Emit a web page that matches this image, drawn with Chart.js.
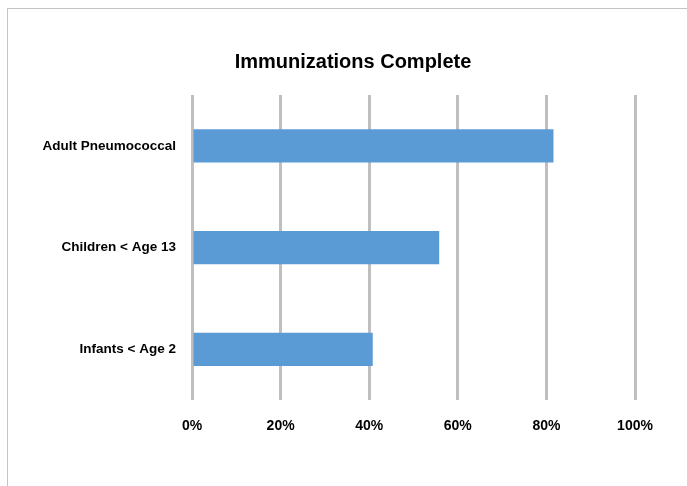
<!DOCTYPE html>
<html>
<head>
<meta charset="utf-8">
<script src="https://cdn.jsdelivr.net/npm/chart.js@4/dist/chart.umd.min.js"></script>
<style>
  html, body { margin: 0; padding: 0; background: #ffffff; overflow: hidden; }
  #wrap { position: relative; width: 687px; height: 486px; overflow: hidden; }
  #frame { position: absolute; left: 7px; top: 8px; width: 760px; height: 560px;
           border: 1.5px solid #c4c4c4; box-sizing: border-box; }
  #title { position: absolute; left: 0; top: 49px; width: 706px; text-align: center;
           font: bold 20px 'Liberation Sans', Arial, sans-serif; line-height: 24px;
           color: #000000; white-space: nowrap; }
  canvas { position: absolute; left: 0; top: 0; }
</style>
</head>
<body>
<div id="wrap">
  <div id="frame"></div>
  <canvas id="chart" width="687" height="486"></canvas>
  <div id="title">Immunizations Complete</div>
</div>
<script>
// Share of each group with immunizations complete (percent)
const categories = ["Adult Pneumococcal", "Children < Age 13", "Infants < Age 2"];
const completePct = [81.6, 55.8, 40.8];
const tickValues = [0, 20, 40, 60, 80, 100];

const FONT = "'Liberation Sans', Arial, sans-serif";

new Chart(document.getElementById("chart"), {
  type: "bar",
  data: {
    labels: categories,
    datasets: [{
      label: "Immunizations Complete",
      data: completePct,
      backgroundColor: "#5b9bd5",
      borderWidth: 0,
      categoryPercentage: 1.0,
      barPercentage: 0.327
    }]
  },
  options: {
    indexAxis: "y",
    responsive: false,
    animation: false,
    devicePixelRatio: 1,
    layout: { padding: { left: 0, right: 52, top: 95, bottom: 33 } },
    plugins: {
      legend: { display: false },
      tooltip: { enabled: false },
      title: { display: false }
    },
    scales: {
      x: {
        min: 0,
        max: 100,
        afterBuildTicks: (scale) => { scale.ticks = tickValues.map(v => ({ value: v })); },
        grid: { color: "#bfbfbf", lineWidth: 3, drawTicks: false },
        border: { display: false },
        ticks: {
          padding: 18,
          maxRotation: 0,
          color: "#000000",
          font: { family: FONT, size: 14, weight: "bold" },
          callback: (v) => v + "%"
        }
      },
      y: {
        afterFit: (scale) => { scale.width = 192; },
        grid: { display: false, drawTicks: false },
        border: { display: false },
        ticks: {
          padding: 16,
          color: "#000000",
          font: { family: FONT, size: 13.5, weight: "bold" }
        }
      }
    }
  }
});
</script>
</body>
</html>
